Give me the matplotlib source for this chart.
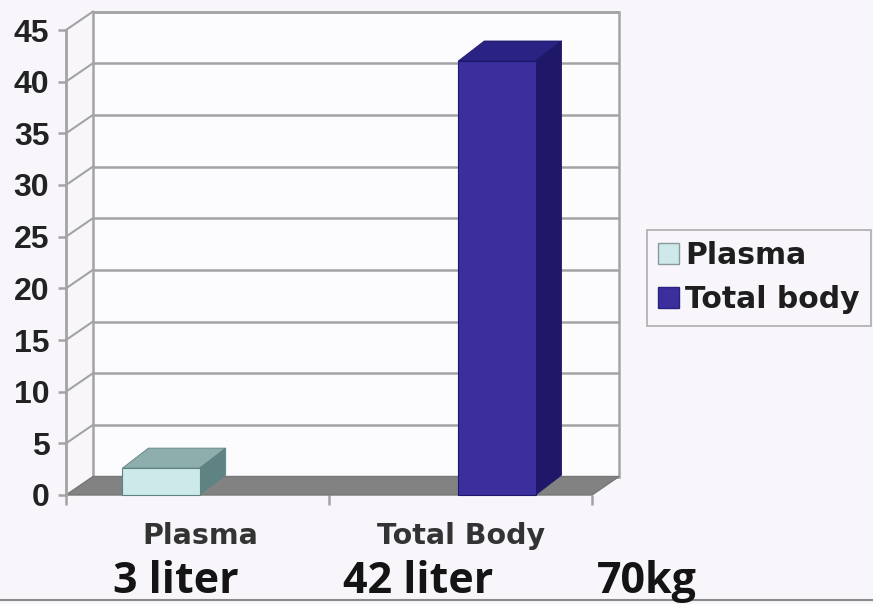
import numpy as np
import matplotlib
matplotlib.use("Agg")
import matplotlib.pyplot as plt
from matplotlib.patches import Polygon, Rectangle, Patch

# =====================================================================
# DATA
# =====================================================================

categories = ["Plasma", "Total Body"]
legend_names = ["Plasma", "Total body"]
values = [2.6, 42.0]
yticks = [0, 5, 10, 15, 20, 25, 30, 35, 40, 45]
bottom_notes = ["3 liter", "42 liter", "70kg"]

# =====================================================================
# STYLE
# =====================================================================

BG = "#f8f6fa"
WALL = "#fcfbfd"
GRID = "#a3a3a6"
FLOOR = "#828282"

FACE_COLORS = {
    "front": ["#cde9e9", "#3a2f9c"],
    "top":   ["#8eadad", "#2b2384"],
    "side":  ["#5f8383", "#1f1868"],
}

W, H, DPI = 873, 604, 100

fig = plt.figure(figsize=(W / DPI, H / DPI), dpi=DPI, facecolor=BG)

# front plane of the 3d box (pixels from top-left)
left_px, right_px, bottom_px, top_px = 66, 592, 495, 30
ax = fig.add_axes([left_px / W, (H - bottom_px) / H,
                   (right_px - left_px) / W, (bottom_px - top_px) / H])
ax.set_facecolor("none")

x0, x1 = -0.283, 1.283
ax.set_xlim(x0, x1)
ax.set_ylim(0, 45)

# pixel -> data conversion for the depth offsets
px_x = (x1 - x0) / (right_px - left_px)
px_y = 45.0 / (bottom_px - top_px)
wdx, wdy = 27 * px_x, 18.5 * px_y     # wall depth
bdx, bdy = 26 * px_x, 20 * px_y       # bar depth

# ---------------------------------------------------------------------
# walls + floor
# ---------------------------------------------------------------------
ax.add_patch(Polygon([(x0, 0), (x0 + wdx, wdy), (x0 + wdx, 45 + wdy), (x0, 45)],
                     closed=True, facecolor=BG, edgecolor="none", clip_on=False, zorder=0))
ax.add_patch(Rectangle((x0 + wdx, wdy), x1 - x0, 45, facecolor=WALL,
                       edgecolor=GRID, linewidth=1.8, clip_on=False, zorder=1))

for v in yticks[1:]:
    ax.plot([x0 + wdx, x1 + wdx], [v + wdy, v + wdy], color=GRID, lw=1.8,
            clip_on=False, zorder=2, solid_capstyle="butt")
    ax.plot([x0, x0 + wdx], [v, v + wdy], color=GRID, lw=1.5,
            clip_on=False, zorder=2)

ax.add_patch(Polygon([(x0, 0), (x1, 0), (x1 + wdx, wdy), (x0 + wdx, wdy)],
                     closed=True, facecolor=FLOOR, edgecolor="#777777",
                     linewidth=1.0, clip_on=False, zorder=3))

# ---------------------------------------------------------------------
# bars
# ---------------------------------------------------------------------
half = 0.115
for i, v in enumerate(values):
    l, r = i - half, i + half
    ax.add_patch(Rectangle((l, 0), r - l, v, facecolor=FACE_COLORS["front"][i],
                           edgecolor=FACE_COLORS["side"][i], linewidth=0.8,
                           clip_on=False, zorder=5))
    ax.add_patch(Polygon([(l, v), (r, v), (r + bdx, v + bdy), (l + bdx, v + bdy)],
                         closed=True, facecolor=FACE_COLORS["top"][i],
                         edgecolor=FACE_COLORS["side"][i], linewidth=0.6,
                         clip_on=False, zorder=4))
    ax.add_patch(Polygon([(r, 0), (r + bdx, bdy), (r + bdx, v + bdy), (r, v)],
                         closed=True, facecolor=FACE_COLORS["side"][i],
                         edgecolor=FACE_COLORS["side"][i], linewidth=0.6,
                         clip_on=False, zorder=4))

# ---------------------------------------------------------------------
# axes
# ---------------------------------------------------------------------
for s in ["top", "right", "bottom"]:
    ax.spines[s].set_visible(False)
ax.spines["left"].set_color(GRID)
ax.spines["left"].set_linewidth(2.0)
ax.spines["left"].set_zorder(6)

ax.set_yticks(yticks)
ax.set_yticklabels([str(t) for t in yticks], family="Liberation Sans",
                   fontweight="bold", fontsize=23, color="#222222")
ax.tick_params(axis="y", length=6, width=1.8, color=GRID, pad=6)

ax.set_xticks([x0, 0.5, x1])
ax.set_xticklabels(["", "", ""])
ax.tick_params(axis="x", length=7, width=1.8, color=GRID)

# category labels
label_px = [200, 461]
for name, lx in zip(categories, label_px):
    fig.text(lx / W, 1 - 536 / H, name, ha="center", va="center",
             family="DejaVu Sans", fontweight="bold", fontsize=20.5, color="#333333")

# bottom notes
note_px = [113, 343, 597]
for note, nx in zip(bottom_notes, note_px):
    fig.text(nx / W, 1 - 593 / H, note, ha="left", va="baseline",
             family="Open Sans", fontweight="bold", fontsize=31, color="#141414")

# legend
handles = [Patch(facecolor=FACE_COLORS["front"][i], edgecolor="#8a9a9a" if i == 0 else "#2a2280")
           for i in range(len(legend_names))]
leg = fig.legend(handles, legend_names, loc="upper left",
                 bbox_to_anchor=(647 / W, 1 - 230 / H), borderaxespad=0,
                 frameon=True, fancybox=False, handlelength=0.7, handleheight=0.7,
                 handletextpad=0.2, labelspacing=0.5, borderpad=0.38,
                 prop={"family": "DejaVu Sans", "weight": "bold", "size": 21.5})
leg.get_frame().set_edgecolor("#9a9a9a")
leg.get_frame().set_facecolor(BG)
leg.get_frame().set_linewidth(1.2)
for t in leg.get_texts():
    t.set_color("#1e1e1e")

# thin line at the very bottom
fig.add_artist(plt.Line2D([0, 1], [1 - 600 / H, 1 - 600 / H], color="#8a8a8a", lw=1.5))

fig.savefig("out.png", dpi=DPI, facecolor=BG)
